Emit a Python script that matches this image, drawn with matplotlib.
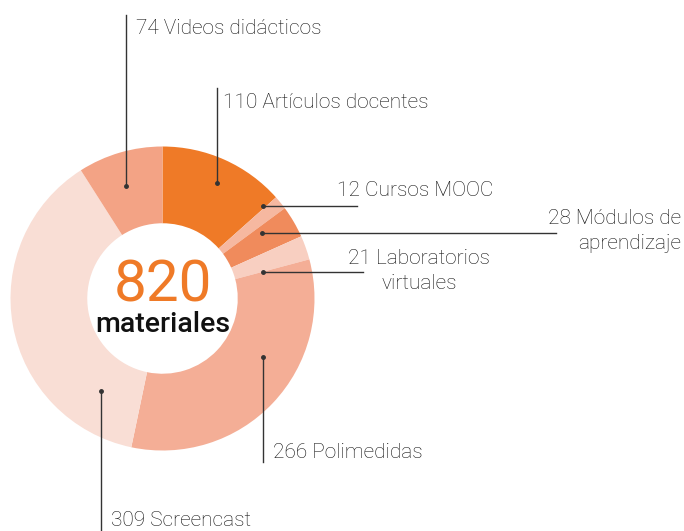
import matplotlib
matplotlib.use("Agg")
import matplotlib.pyplot as plt

# data
categorias = ["Artículos docentes", "Cursos MOOC", "Módulos de\naprendizaje",
              "Laboratorios\nvirtuales", "Polimedidas", "Screencast", "Videos didácticos"]
valores = [110, 12, 28, 21, 266, 309, 74]
colores = ["#EF7A27", "#F6B8A0", "#F08B5C", "#F8CFC1", "#F4AE96", "#F9DED5", "#F3A385"]
total = sum(valores)

W, H = 684, 531
def Y(py):
    return H - py

plt.rcParams["font.family"] = ["Roboto", "DejaVu Sans"]
txt = "#111111"

fig = plt.figure(figsize=(W / 100, H / 100), dpi=100)
ax = fig.add_axes([0, 0, 1, 1])

cx, cy, R = 162.5, Y(298.5), 152
ax.pie(valores, colors=colores, startangle=90, counterclock=False,
       radius=R, center=(cx, cy), frame=True,
       wedgeprops=dict(width=R * 0.505, linewidth=0))
ax.set_xlim(0, W)
ax.set_ylim(0, H)
ax.set_aspect("equal")
ax.axis("off")

# center text
ax.text(cx, Y(286), str(total), color="#EF7A27", fontsize=42, ha="center", va="center")
ax.text(cx, Y(324), "materiales", color="#111111", fontsize=20.5, fontweight="medium",
        ha="center", va="center")

fs = 15
lc = "#333333"
def dot(x, y):
    ax.plot([x], [Y(y)], "o", color=lc, ms=2.5)

# Videos didácticos (vertical)
ax.plot([126, 126], [Y(15), Y(186)], color=lc, lw=1)
dot(126, 186)
ax.text(136, Y(28), f"{valores[6]} {categorias[6]}", fontsize=fs, color=txt, va="center", fontweight="light")

# Artículos docentes
ax.plot([217, 217], [Y(88), Y(183)], color=lc, lw=1)
dot(217, 183)
ax.text(223, Y(102), f"{valores[0]} {categorias[0]}", fontsize=fs, color=txt, va="center", fontweight="light")

# Cursos MOOC
ax.plot([263, 357], [Y(206), Y(206)], color=lc, lw=1)
dot(263, 206)
ax.text(337, Y(190), f"{valores[1]} {categorias[1]}", fontsize=fs, color=txt, va="center", fontweight="light")

# Módulos de aprendizaje
ax.plot([262, 556], [Y(233), Y(233)], color=lc, lw=1)
dot(262, 233)
ax.text(681, Y(231), f"{valores[2]} {categorias[2]}", fontsize=fs, color=txt, va="center",
        ha="right", multialignment="right", linespacing=1.35, fontweight="light")

# Laboratorios virtuales
ax.plot([263, 363], [Y(272), Y(272)], color=lc, lw=1)
dot(263, 272)
ax.text(419, Y(271), f"{valores[3]} {categorias[3]}", fontsize=fs, color=txt, va="center",
        ha="center", multialignment="center", linespacing=1.35, fontweight="light")

# Polimedidas
ax.plot([263, 263], [Y(357), Y(462)], color=lc, lw=1)
dot(263, 357)
ax.text(273, Y(452), f"{valores[4]} {categorias[4]}", fontsize=fs, color=txt, va="center", fontweight="light")

# Screencast
ax.plot([101, 101], [Y(391), Y(531)], color=lc, lw=1)
dot(101, 391)
ax.text(111, Y(521), f"{valores[5]} {categorias[5]}", fontsize=fs, color=txt, va="center", fontweight="light")

fig.savefig("out.png", dpi=100)
